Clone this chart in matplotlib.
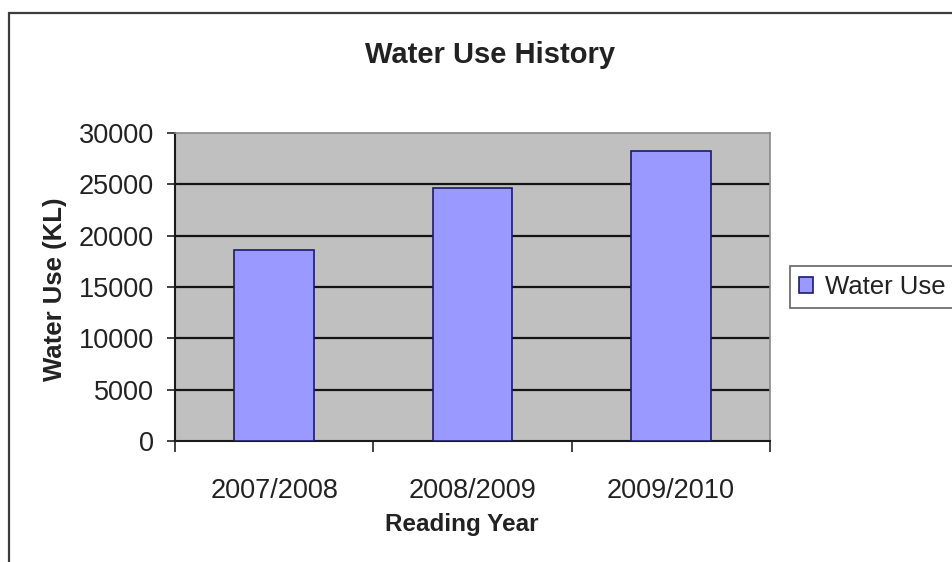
import numpy as np
import matplotlib
matplotlib.use("Agg")
import matplotlib.pyplot as plt
from matplotlib.patches import Rectangle

plt.rcParams['font.family'] = ['Liberation Sans', 'DejaVu Sans']

# water use per reading year (KL)
years = ['2007/2008', '2008/2009', '2009/2010']
water_use = [18600, 24600, 28200]
series_name = 'Water Use'
yticks = [0, 5000, 10000, 15000, 20000, 25000, 30000]

W, H = 952, 562
fig = plt.figure(figsize=(W / 100, H / 100), dpi=100)
fig.patch.set_facecolor('white')

# chart area border (runs off the right and bottom edges)
fig.patches.append(Rectangle((9 / W, -0.1), 2.0, 1.1 - 13 / H,
                             transform=fig.transFigure, fill=False,
                             edgecolor='#3c3c3c', linewidth=1.6))

ax = fig.add_axes([175 / W, 121 / H, 595 / W, 308 / H])
ax.set_facecolor('#c0c0c0')

x = np.arange(len(years))
ax.bar(x, water_use, width=0.4, color='#9999ff', edgecolor='#1c1c6a',
       linewidth=1.2, label=series_name, zorder=3)

ax.set_xlim(-0.5, len(years) - 0.5)
ax.set_ylim(0, 30000)

# horizontal gridlines
for v in yticks[1:-1]:
    ax.axhline(v, color='#141414', linewidth=1.6, zorder=1)

ax.set_yticks(yticks)
ax.set_yticklabels([str(v) for v in yticks])
ax.tick_params(axis='y', direction='out', length=6, width=1.2,
               pad=9, labelsize=19.5, colors='#222222')

# category ticks between bars, labels centred under bars
ax.set_xticks(np.arange(len(years) + 1) - 0.5)
ax.set_xticklabels([])
ax.set_xticks(x, minor=True)
ax.set_xticklabels(years, minor=True)
ax.tick_params(axis='x', which='major', direction='out', length=8,
               width=1.2, color='#222222')
ax.tick_params(axis='x', which='minor', length=0, pad=27,
               labelsize=19.5, labelcolor='#222222')

for side in ['left', 'bottom']:
    ax.spines[side].set_color('#1a1a1a')
    ax.spines[side].set_linewidth(1.5)
for side in ['top', 'right']:
    ax.spines[side].set_color('#8a8a8a')
    ax.spines[side].set_linewidth(1.2)

ax.set_xlabel('Reading Year', fontsize=17.5, fontweight='bold', color='#222222')
ax.xaxis.set_label_coords((462 - 175) / 595, (441 - 524) / 308)
ax.xaxis.label.set_va('center')

ax.set_ylabel('Water Use (KL)', fontsize=18.5, fontweight='bold', color='#222222')
ax.yaxis.set_label_coords((55 - 175) / 595, (441 - 289) / 308)
ax.yaxis.label.set_va('center')

fig.text(490 / W, 1 - 55 / H, 'Water Use History', ha='center', va='center',
         fontsize=21, fontweight='bold', color='#222222')

leg = ax.legend(loc='center left', bbox_to_anchor=(790 / W, 1 - 287 / H),
                bbox_transform=fig.transFigure, fontsize=18.5, frameon=True,
                fancybox=False, handlelength=0.55, handleheight=0.55,
                handletextpad=0.45, borderpad=0.35, borderaxespad=0)
leg.get_frame().set_edgecolor('#3c3c3c')
leg.get_frame().set_linewidth(1.2)
for t in leg.get_texts():
    t.set_color('#222222')

fig.savefig('out.png', dpi=100)
